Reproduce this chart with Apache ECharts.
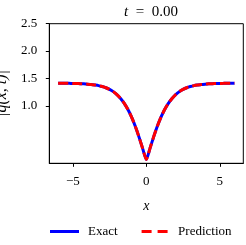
<!DOCTYPE html>
<html><head><meta charset="utf-8">
<script src="https://cdn.jsdelivr.net/npm/echarts@6/dist/echarts.min.js"></script>
<style>html,body{margin:0;padding:0;background:#fff}#c{width:246px;height:245px}</style>
</head><body><div id="c"></div>
<script>
const xValues = [-6,-5.75,-5.5,-5.25,-5,-4.75,-4.5,-4.25,-4,-3.75,-3.5,-3.25,-3,-2.75,-2.5,-2.25,-2,-1.75,-1.5,-1.25,-1,-0.75,-0.5,-0.25,0,
  0.25,0.5,0.75,1,1.25,1.5,1.75,2,2.25,2.5,2.75,3,3.25,3.5,3.75,4,4.25,4.5,4.75,5,5.25,5.5,5.75,6];
const exactValues = [1.413,1.412,1.411,1.410,1.409,1.407,1.404,1.401,1.396,1.390,1.380,1.369,1.352,1.330,1.299,1.259,1.206,1.135,1.045,0.932,0.792,0.625,0.433,0.222,0.02,
  0.222,0.433,0.625,0.792,0.932,1.045,1.135,1.206,1.259,1.299,1.330,1.352,1.369,1.380,1.390,1.396,1.401,1.404,1.407,1.409,1.410,1.411,1.412,1.413];
const predValues = [1.413,1.412,1.411,1.410,1.409,1.407,1.404,1.401,1.396,1.390,1.380,1.369,1.352,1.330,1.299,1.259,1.206,1.135,1.045,0.932,0.792,0.625,0.433,0.222,0.02,
  0.222,0.433,0.625,0.792,0.932,1.045,1.135,1.206,1.259,1.299,1.330,1.352,1.369,1.380,1.390,1.396,1.401,1.404,1.407,1.409,1.410,1.411,1.412,1.413];
const xTicks = [-5, 0, 5];
const yTicks = [1.0, 1.5, 2.0, 2.5];
const seriesNames = ['Exact', 'Prediction'];

const F = 'Liberation Serif';
const chart = echarts.init(document.getElementById('c'), null, {renderer: 'canvas'});
const pair = arr => xValues.map((x, i) => [x, arr[i]]);
chart.setOption({
  animation: false,
  title: {
    text: '{i|t}  =  0.00', left: 146, top: 0, textAlign: 'center',
    textStyle: {fontFamily: F, fontSize: 15, fontWeight: 'normal', color: '#000',
      rich: {i: {fontFamily: F, fontStyle: 'italic', fontSize: 15}}}
  },
  grid: {left: 49.3, right: 2.7, top: 23.7, bottom: 81.7, outerBoundsMode: 'none', containLabel: false,
    show: true, borderColor: '#000', borderWidth: 1, backgroundColor: 'transparent'},
  legend: {
    data: [
      {name: seriesNames[0], icon: 'path://M0,0H29V3H0Z'},
      {name: seriesNames[1], icon: 'path://M0,0H10V3H0ZM16,0H26V3H16Z'}
    ],
    left: 50, top: 225, padding: 0, itemWidth: 29, itemHeight: 3, itemGap: 24,
    textStyle: {fontFamily: F, fontSize: 13, color: '#000', padding: [0, 0, 0, 4]}
  },
  xAxis: {
    type: 'value', min: -6.6, max: 6.6,
    name: 'x', nameLocation: 'middle', nameGap: 36,
    nameTextStyle: {fontFamily: F, fontStyle: 'italic', fontSize: 14, color: '#000'},
    axisLine: {show: true, onZero: false, lineStyle: {color: '#000', width: 1}},
    axisTick: {show: true, length: 3.5, customValues: xTicks, lineStyle: {color: '#000'}},
    axisLabel: {customValues: xTicks, fontFamily: F, fontSize: 13, color: '#000', margin: 12,
      formatter: v => (v < 0 ? '\u2212' + Math.abs(v) : String(v))},
    splitLine: {show: false}
  },
  yAxis: {
    type: 'value', min: -0.05, max: 2.5,
    name: '|q(x, t)|', nameLocation: 'middle', nameGap: 40, nameRotate: 90,
    nameTextStyle: {fontFamily: F, fontStyle: 'italic', fontSize: 16, color: '#000'},
    axisLine: {show: true, onZero: false, lineStyle: {color: '#000', width: 1}},
    axisTick: {show: true, length: 3.5, customValues: yTicks, lineStyle: {color: '#000'}},
    axisLabel: {customValues: yTicks, fontFamily: F, fontSize: 13, color: '#000', margin: 12,
      formatter: v => v.toFixed(1)},
    splitLine: {show: false}
  },
  series: [
    {name: seriesNames[0], type: 'line', data: pair(exactValues), showSymbol: false, symbol: 'none', smooth: 0.2,
     lineStyle: {color: '#0000ff', width: 3}, itemStyle: {color: '#0000ff'}},
    {name: seriesNames[1], type: 'line', data: pair(predValues), showSymbol: false, symbol: 'none', smooth: 0.2,
     lineStyle: {color: '#ff0000', width: 3, type: [10, 4]}, itemStyle: {color: '#ff0000'}}
  ]
});
</script></body></html>
